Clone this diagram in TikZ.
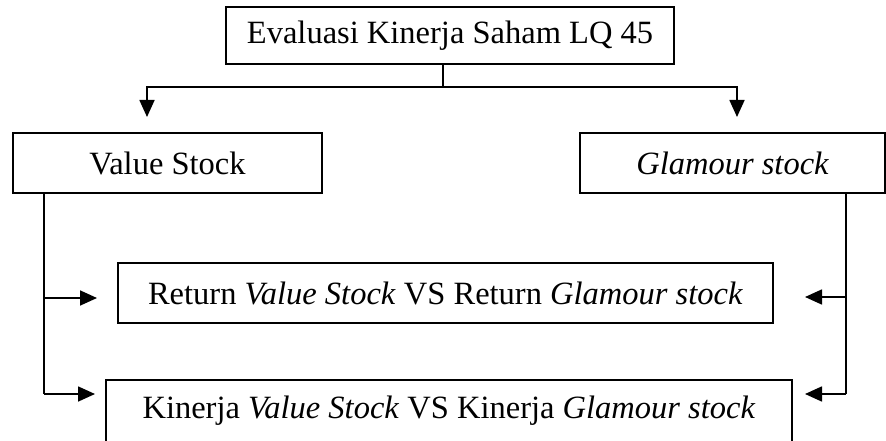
\documentclass[tikz,border=0pt]{standalone}
\usepackage{fontspec}
\setmainfont{Liberation Serif}
\usetikzlibrary{arrows.meta}
\tikzset{>={Triangle[length=17pt,width=15pt]}}
\tikzset{box/.style={draw,line width=1.7pt,inner sep=0pt,
  font=\fontsize{32.5}{39}\selectfont},
  conn/.style={line width=1.7pt}}

\begin{document}
\begin{tikzpicture}[x=1pt,y=-1pt]
\clip (0,0) rectangle (886,441);
\node[box,minimum width=448pt,minimum height=57pt] (top) at (450,35.5)
  {Evaluasi Kinerja Saham LQ 45};
\node[box,minimum width=309pt,minimum height=60pt] (value) at (167.5,163)
  {Value Stock};
\node[box,minimum width=305pt,minimum height=60pt] (glamour) at (732.5,163)
  {\itshape Glamour stock};
\node[box,minimum width=655pt,minimum height=60pt] (return) at (445.5,293)
  {Return \textit{Value Stock} VS Return \textit{Glamour stock}};
\node[box,minimum width=686pt,minimum height=72pt,text depth=18pt] (kinerja) at (449,416)
  {Kinerja \textit{Value Stock} VS Kinerja \textit{Glamour stock}};

\coordinate (split) at (443,87);
\coordinate (vtip) at (147,117);
\coordinate (gtip) at (737,117);
\coordinate (lbus) at (44,394);
\coordinate (rbus) at (846,394);
\coordinate (rtipL) at (97,298);
\coordinate (rtipR) at (805,297);
\coordinate (ktipL) at (95,394);
\coordinate (ktipR) at (805,394);

\draw[conn] (top.south -| split) -- (split);
\draw[conn,->] (split) -| (vtip);
\draw[conn,->] (split) -| (gtip);

\draw[conn] (value.south -| lbus) -- (lbus);
\draw[conn,->] (lbus |- rtipL) -- (rtipL);
\draw[conn,->] (lbus) -- (ktipL);

\draw[conn] (glamour.south -| rbus) -- (rbus);
\draw[conn,->] (rbus |- rtipR) -- (rtipR);
\draw[conn,->] (rbus) -- (ktipR);
\end{tikzpicture}
\end{document}
